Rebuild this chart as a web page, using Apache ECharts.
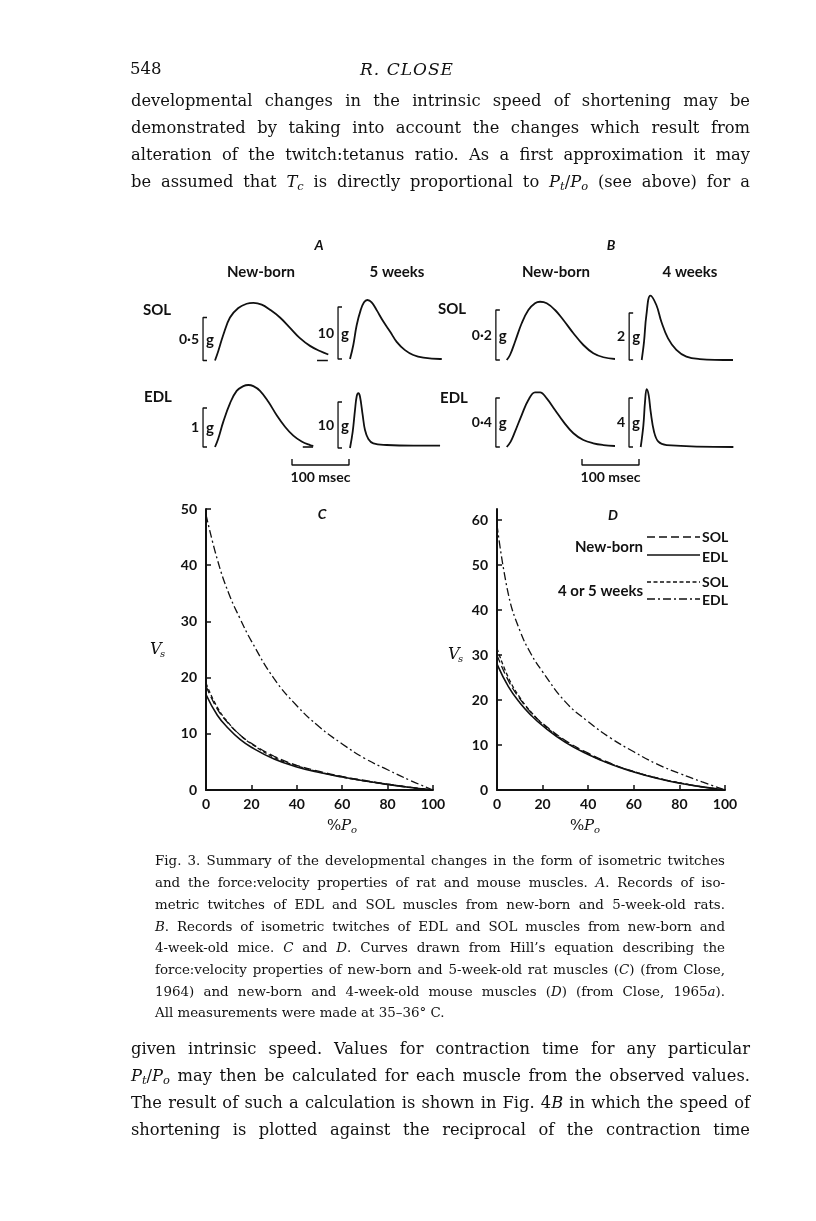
<!DOCTYPE html>
<html><head><meta charset="utf-8">
<script src="https://cdn.jsdelivr.net/npm/echarts@6/dist/echarts.min.js"></script>
<style>
html,body{margin:0;padding:0;background:#fff;}
#page{position:relative;width:816px;height:1221px;overflow:hidden;background:#fff;}
#chart{position:absolute;left:0;top:0;width:816px;height:1221px;}
.ln{position:absolute;white-space:nowrap;color:#111;font-family:"DejaVu Serif",serif;}
.body{left:131px;width:619px;font-size:16.3px;line-height:20px;height:20px;text-align:justify;text-align-last:justify;}
.cap{left:155px;width:570px;font-size:13.4px;line-height:18px;height:18px;text-align:justify;text-align-last:justify;}
.cap.last{text-align:left;text-align-last:left;}
i{font-style:italic;}
sub{font-size:70%;vertical-align:-0.3em;line-height:0;}
</style></head>
<body><div id="page">
<div id="chart"></div>
<div class="ln" style="left:130px;top:59px;font-size:16.5px;line-height:20px;">548</div>
<div class="ln" style="left:346px;width:122px;top:59px;font-size:17px;line-height:20px;font-style:italic;text-align:center;letter-spacing:1px;">R. CLOSE</div>
<div class="ln body" style="top:91px;">developmental changes in the intrinsic speed of shortening may be</div>
<div class="ln body" style="top:118px;">demonstrated by taking into account the changes which result from</div>
<div class="ln body" style="top:145px;">alteration of the twitch:tetanus ratio. As a first approximation it may</div>
<div class="ln body" style="top:172px;">be assumed that <i>T<sub>c</sub></i> is directly proportional to <i>P<sub>t</sub></i>/<i>P<sub>o</sub></i> (see above) for a</div>

<div class="ln cap" style="top:852px;">Fig. 3. Summary of the developmental changes in the form of isometric twitches</div>
<div class="ln cap" style="top:874px;">and the force:velocity properties of rat and mouse muscles. <i>A</i>. Records of iso-</div>
<div class="ln cap" style="top:896px;">metric twitches of EDL and SOL muscles from new-born and 5-week-old rats.</div>
<div class="ln cap" style="top:918px;"><i>B</i>. Records of isometric twitches of EDL and SOL muscles from new-born and</div>
<div class="ln cap" style="top:939px;">4-week-old mice. <i>C</i> and <i>D</i>. Curves drawn from Hill’s equation describing the</div>
<div class="ln cap" style="top:961px;">force:velocity properties of new-born and 5-week-old rat muscles (<i>C</i>) (from Close,</div>
<div class="ln cap" style="top:983px;">1964) and new-born and 4-week-old mouse muscles (<i>D</i>) (from Close, 1965<i>a</i>).</div>
<div class="ln cap last" style="top:1004px;">All measurements were made at 35–36° C.</div>

<div class="ln body" style="top:1039px;">given intrinsic speed. Values for contraction time for any particular</div>
<div class="ln body" style="top:1066px;"><i>P<sub>t</sub></i>/<i>P<sub>o</sub></i> may then be calculated for each muscle from the observed values.</div>
<div class="ln body" style="top:1093px;">The result of such a calculation is shown in Fig. 4<i>B</i> in which the speed of</div>
<div class="ln body" style="top:1120px;">shortening is plotted against the reciprocal of the contraction time</div>
</div>
<script>
// ---------- DATA ----------
// Panels C & D: load (% Po) vs speed of shortening Vs
const loadPct = [0, 5, 10, 15, 20, 30, 40, 50, 60, 70, 80, 90, 100];
const ratNewbornSol = [18.5, 14.4, 11.8, 9.8, 8.3, 6.0, 4.4, 3.3, 2.4, 1.7, 1.05, 0.5, 0];
const ratNewbornEdl = [17, 13.3, 10.9, 9.0, 7.6, 5.5, 4.1, 3.1, 2.3, 1.6, 1.0, 0.45, 0];
const rat5wkSol = [19, 14.7, 11.9, 9.8, 8.2, 5.8, 4.3, 3.2, 2.3, 1.6, 1.0, 0.45, 0];
const rat5wkEdl = [49, 41, 35, 30.5, 26.5, 19.8, 15, 11.2, 8.2, 5.6, 3.6, 1.7, 0];
const mouseNewbornSol = [30, 24.3, 20.3, 17.2, 14.8, 11.0, 8.2, 5.9, 4.1, 2.7, 1.6, 0.7, 0];
const mouseNewbornEdl = [28, 23, 19.4, 16.6, 14.3, 10.6, 7.9, 5.7, 4.0, 2.6, 1.5, 0.7, 0];
const mouse4wkSol = [31.5, 25, 20.6, 17.3, 14.7, 10.8, 8.0, 5.8, 4.1, 2.7, 1.6, 0.7, 0];
const mouse4wkEdl = [59, 43.5, 35.5, 30.2, 26.3, 19.6, 15.2, 11.5, 8.5, 5.8, 3.7, 1.8, 0];
const yTicksC = [0, 10, 20, 30, 40, 50];
const yTicksD = [0, 10, 20, 30, 40, 50, 60];

// Panels A & B: isometric twitch records, [time (msec), tension (g)]
const ratNbSolTwitch = [[0,0],[5.8,0.11],[14.6,0.30],[26.3,0.50],[40.9,0.61],[55.6,0.66],[67.3,0.67],[81.9,0.65],[96.5,0.59],[114,0.50],[131.6,0.38],[149,0.26],[166.7,0.17],[184,0.11],[198.8,0.07]];
const rat5wSolTwitch = [[0,0],[5.8,2.7],[11.7,6.5],[18.7,9.4],[24.6,10.9],[30.4,11.35],[38,10.9],[46.8,9.4],[58.5,7.2],[70.2,5.3],[81.9,3.3],[96.5,1.7],[111,0.77],[128.7,0.25],[158,0],[161,0]];
const ratNbEdlTwitch = [[0,0],[5.8,0.22],[14.6,0.65],[26.3,1.12],[38,1.44],[49.7,1.56],[58.5,1.59],[67.3,1.56],[79,1.44],[93.6,1.16],[108,0.82],[122.8,0.52],[137.4,0.29],[152,0.14],[166.7,0.05],[172.5,0.03]];
const rat5wEdlTwitch = [[0,0],[4.7,3.5],[8.8,8.3],[11.7,11.2],[14.6,11.9],[17.5,11.2],[22.2,7.2],[26.3,3.9],[32.2,1.96],[40.9,1.0],[64.3,0.65],[111,0.5],[158,0.5]];
const mouseNbSolTwitch = [[0,0],[5.8,0.02],[14.6,0.073],[26.3,0.147],[38,0.2],[49.7,0.227],[58.5,0.233],[70.2,0.227],[84.8,0.2],[99.4,0.16],[117,0.107],[134.5,0.06],[152,0.027],[169.6,0.011],[190,0.004]];
const mouse4wSolTwitch = [[0,0],[4.1,0.78],[8.2,1.91],[15.2,2.74],[25.7,2.34],[34.5,1.63],[46.2,0.92],[60.8,0.43],[78.4,0.14],[101.8,0.04],[160.2,0]];
const mouseNbEdlTwitch = [[0,0],[7,0.044],[14.6,0.125],[26.3,0.261],[38,0.384],[49.7,0.446],[58.5,0.446],[70.2,0.397],[84.8,0.302],[99.4,0.207],[117,0.112],[134.5,0.057],[152,0.03],[169.6,0.016],[190,0.008]];
const mouse4wEdlTwitch = [[0,0],[4.7,1.77],[7.6,3.7],[10.5,4.73],[14,4.24],[17.5,2.88],[23.4,1.25],[31,0.44],[45.6,0.16],[162.6,0]];
// calibration marks (g) and baseline marks (msec)
const scaleValues = {ratNbSol: 0.5, rat5wSol: 10, ratNbEdl: 1, rat5wEdl: 10, mouseNbSol: 0.2, mouse4wSol: 2, mouseNbEdl: 0.4, mouse4wEdl: 4};
const scaleLabels = {ratNbSol: '0·5', rat5wSol: '10', ratNbEdl: '1', rat5wEdl: '10', mouseNbSol: '0·2', mouse4wSol: '2', mouseNbEdl: '0·4', mouse4wEdl: '4'};
const ratNbSolBaseMark = [[179, 0], [198, 0]];
const ratNbEdlBaseMark = [[154, 0], [172, 0]];
const timeBarMs = 100;

// ---------- LAYOUT ----------
const INK = '#111';
const SANS = 'Lato';
const SERIF = 'DejaVu Serif';
const PX_PER_MS = 0.57;
const grids = [], xAxes = [], yAxes = [], series = [], graphics = [];
function addGrid(g, xa, ya) {
  grids.push(g);
  const i = grids.length - 1;
  xAxes.push(Object.assign({ gridIndex: i, type: 'value' }, xa));
  yAxes.push(Object.assign({ gridIndex: i, type: 'value' }, ya));
  return i;
}
function txt(x, y, s, opt) {
  graphics.push({ type: 'text', x: x, y: y, silent: true, style: Object.assign({
    text: s, fill: INK, font: 'bold 15px ' + SANS, align: 'center', verticalAlign: 'middle'
  }, opt || {}) });
}

// twitch traces
const traces = [
  { key: 'ratNbSol', data: ratNbSolTwitch, x0: 215, base: 360.5, pxPerG: 86, bT: -21, mark: ratNbSolBaseMark },
  { key: 'rat5wSol', data: rat5wSolTwitch, x0: 350, base: 359, pxPerG: 5.2, bT: -21 },
  { key: 'ratNbEdl', data: ratNbEdlTwitch, x0: 215, base: 447, pxPerG: 39, bT: -21, mark: ratNbEdlBaseMark },
  { key: 'rat5wEdl', data: rat5wEdlTwitch, x0: 350, base: 448, pxPerG: 4.6, bT: -21 },
  { key: 'mouseNbSol', data: mouseNbSolTwitch, x0: 506.7, base: 360, pxPerG: 250, bT: -19 },
  { key: 'mouse4wSol', data: mouse4wSolTwitch, x0: 641.7, base: 360, pxPerG: 23.5, bT: -22 },
  { key: 'mouseNbEdl', data: mouseNbEdlTwitch, x0: 506.7, base: 447, pxPerG: 122.5, bT: -19 },
  { key: 'mouse4wEdl', data: mouse4wEdlTwitch, x0: 640.7, base: 447, pxPerG: 12.25, bT: -20.5 }
];
traces.forEach(function (t) {
  const scale = scaleValues[t.key];
  const tMin = t.bT - 4, tMax = t.data[t.data.length - 1][0] + 4;
  const peak = Math.max.apply(null, t.data.map(function (d) { return d[1]; }).concat([scale]));
  const gMax = peak * 1.1, gMin = -peak * 0.1;
  const gi = addGrid({
    left: t.x0 + tMin * PX_PER_MS, width: (tMax - tMin) * PX_PER_MS,
    top: t.base - gMax * t.pxPerG, height: (gMax - gMin) * t.pxPerG
  }, { show: false, min: tMin, max: tMax }, { show: false, min: gMin, max: gMax });
  const common = { type: 'line', xAxisIndex: gi, yAxisIndex: gi, showSymbol: false, silent: true, clip: false, animation: false };
  series.push(Object.assign({}, common, { data: t.data, smooth: 0.4, lineStyle: { color: INK, width: 1.8 } }));
  const arm = 7;
  series.push(Object.assign({}, common, {
    data: [[t.bT + arm, 0], [t.bT, 0], [t.bT, scale], [t.bT + arm, scale]],
    lineStyle: { color: INK, width: 1.3 }
  }));
  if (t.mark) series.push(Object.assign({}, common, { data: t.mark, lineStyle: { color: INK, width: 1.6 } }));
  const bx = t.x0 + t.bT * PX_PER_MS;
  const by = t.base - scale * t.pxPerG / 2;
  txt(bx - 4, by, scaleLabels[t.key], { align: 'right', font: 'bold 14px ' + SANS });
  txt(bx + 3, by + 1, 'g', { align: 'left', font: 'bold 15px ' + SANS });
});
// time bars
[292, 582].forEach(function (left) {
  const gi = addGrid({ left: left, width: timeBarMs * PX_PER_MS, top: 459, height: 6 },
    { show: false, min: 0, max: timeBarMs }, { show: false, min: 0, max: 1 });
  series.push({ type: 'line', xAxisIndex: gi, yAxisIndex: gi, showSymbol: false, silent: true, clip: false,
    data: [[0, 1], [0, 0], [timeBarMs, 0], [timeBarMs, 1]], lineStyle: { color: INK, width: 1.4 } });
  txt(left + timeBarMs * PX_PER_MS / 2, 477, '100 msec', { font: 'bold 14px ' + SANS });
});

// panel headings
txt(319, 245, 'A', { font: 'italic bold 14px ' + SANS });
txt(611, 245, 'B', { font: 'italic bold 14px ' + SANS });
txt(261, 272, 'New-born'); txt(397, 272, '5 weeks');
txt(556, 272, 'New-born'); txt(690, 272, '4 weeks');
txt(157, 310, 'SOL'); txt(158, 397, 'EDL');
txt(452, 309, 'SOL'); txt(454, 398, 'EDL');

// force-velocity panels
const styles = {
  nbSol: { color: INK, width: 1.3, type: [8, 4] },
  nbEdl: { color: INK, width: 1.6, type: 'solid' },
  oldSol: { color: INK, width: 1.3, type: [4, 2.5] },
  oldEdl: { color: INK, width: 1.3, type: [8, 3, 2, 3] }
};
function pairs(v) { return loadPct.map(function (x, i) { return [x, v[i]]; }); }
function fvAxes(yMax, yTicks) {
  const axisCommon = {
    axisLine: { show: true, lineStyle: { color: INK, width: 2 } },
    axisTick: { show: true, inside: true, length: 5, lineStyle: { color: INK, width: 1.5 } },
    splitLine: { show: false },
    axisLabel: { color: INK, fontFamily: SANS, fontWeight: 'bold', fontSize: 14 }
  };
  const xa = Object.assign({}, axisCommon, { min: 0, max: 100, interval: 20,
    axisLabel: Object.assign({}, axisCommon.axisLabel, { margin: 7 }) });
  const ya = Object.assign({}, axisCommon, { min: 0, max: yMax, interval: 10,
    axisTick: Object.assign({}, axisCommon.axisTick, { customValues: yTicks }),
    axisLabel: Object.assign({}, axisCommon.axisLabel, { margin: 9, customValues: yTicks,
      formatter: function (v) { return yTicks.indexOf(v) >= 0 ? String(v) : ''; } }) });
  return [xa, ya];
}
const axC = fvAxes(50, yTicksC);
const gC = addGrid({ left: 206, top: 509, width: 227, height: 281 }, axC[0], axC[1]);
const axD = fvAxes(62.5, yTicksD);
const gD = addGrid({ left: 497, top: 509, width: 228, height: 281 }, axD[0], axD[1]);
function fv(gi, name, vals, st) {
  series.push({ type: 'line', name: name, xAxisIndex: gi, yAxisIndex: gi, data: pairs(vals),
    showSymbol: false, smooth: 0.45, silent: true, clip: false,
    lineStyle: st });
}
fv(gC, 'New-born SOL', ratNewbornSol, styles.nbSol);
fv(gC, 'New-born EDL', ratNewbornEdl, styles.nbEdl);
fv(gC, '5 weeks SOL', rat5wkSol, styles.oldSol);
fv(gC, '5 weeks EDL', rat5wkEdl, styles.oldEdl);
fv(gD, 'New-born SOL', mouseNewbornSol, styles.nbSol);
fv(gD, 'New-born EDL', mouseNewbornEdl, styles.nbEdl);
fv(gD, '4 weeks SOL', mouse4wkSol, styles.oldSol);
fv(gD, '4 weeks EDL', mouse4wkEdl, styles.oldEdl);

txt(322, 514, 'C', { font: 'italic bold 14px ' + SANS });
txt(613, 515, 'D', { font: 'italic bold 14px ' + SANS });
// axis names
function vs(x, y) {
  txt(x, y, 'V', { align: 'left', font: 'italic 16px "' + SERIF + '"' });
  txt(x + 10, y + 4, 's', { align: 'left', font: 'italic 10px "' + SERIF + '"' });
}
vs(150, 650); vs(448, 655);
function po(x, y) {
  txt(x, y, '%', { align: 'left', font: '15px "' + SERIF + '"' });
  txt(x + 14, y, 'P', { align: 'left', font: 'italic 15px "' + SERIF + '"' });
  txt(x + 24, y + 4, 'o', { align: 'left', font: 'italic 10px "' + SERIF + '"' });
}
po(327, 826); po(570, 826);

// legend (panel D)
function legLine(y, st) {
  graphics.push({ type: 'line', silent: true, shape: { x1: 647, y1: y, x2: 700, y2: y },
    style: { stroke: INK, lineWidth: st.width, lineDash: st.type === 'solid' ? null : st.type } });
}
legLine(537, styles.nbSol); legLine(555, styles.nbEdl);
legLine(582, styles.oldSol); legLine(599, styles.oldEdl);
txt(643, 547, 'New-born', { align: 'right' });
txt(643, 591, '4 or 5 weeks', { align: 'right' });
txt(702, 537, 'SOL', { align: 'left', font: 'bold 14px ' + SANS });
txt(702, 557, 'EDL', { align: 'left', font: 'bold 14px ' + SANS });
txt(702, 582, 'SOL', { align: 'left', font: 'bold 14px ' + SANS });
txt(702, 600, 'EDL', { align: 'left', font: 'bold 14px ' + SANS });

const chart = echarts.init(document.getElementById('chart'));
chart.setOption({ animation: false, backgroundColor: 'transparent', grid: grids, xAxis: xAxes, yAxis: yAxes, series: series, graphic: graphics });
</script>
</body></html>
